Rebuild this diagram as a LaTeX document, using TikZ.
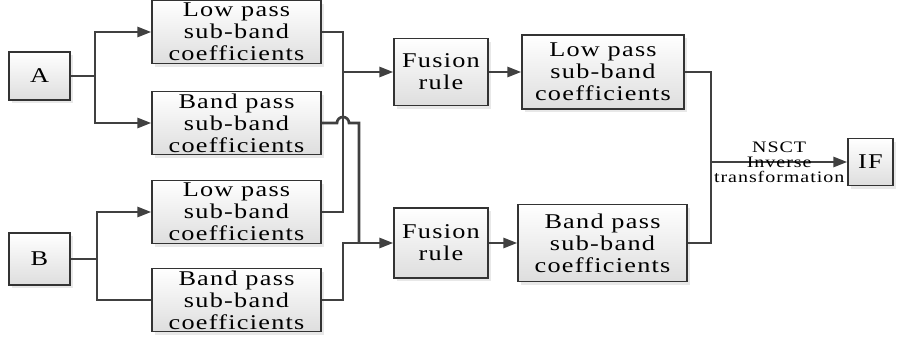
\documentclass[tikz,border=0pt]{standalone}
\usepackage{fontspec}
\setmainfont{Liberation Serif}[FakeStretch=1.25,LetterSpace=6]
\usetikzlibrary{arrows.meta,shadows}

\tikzset{
    blockbox/.style={draw=black!80, line width=1.3pt, top color=white, bottom color=black!13,
        drop shadow={shadow xshift=3pt, shadow yshift=-3pt, fill=black!18},
        inner sep=0pt, align=center, font=\fontsize{21}{22}\selectfont},
    wire/.style={draw=black!75, line width=2.7pt},
    flow/.style={wire, -{Triangle[length=14pt,width=10pt]}}
}

\begin{document}
\begin{tikzpicture}[x=1pt, y=-1pt]

        % Fix the page to the size of the reference
        \useasboundingbox (0,0) rectangle (900,340);

        % Input images
        \node[blockbox, minimum width=61pt, minimum height=48pt] (A) at (39.5,76) {A};
        \node[blockbox, minimum width=61pt, minimum height=52pt] (B) at (39.5,259) {B};

        % Loop to draw the four decomposition boxes
        \foreach \name/\y/\kind in {LowA/32/Low, BandA/123/Band, LowB/212/Low, BandB/300/Band} {
            \node[blockbox, minimum width=169pt, minimum height=63pt] (\name) at (236.5,\y)
                {\kind\ pass\\sub-band\\coefficients};
        }

        % Fusion rules and fused coefficients
        \node[blockbox, minimum width=94pt, minimum height=67pt] (Fus1) at (441,72) {Fusion\\rule};
        \node[blockbox, minimum width=94pt, minimum height=70pt] (Fus2) at (441,243) {Fusion\\rule};
        \node[blockbox, minimum width=162pt, minimum height=74pt] (LowOut) at (603,72) {Low pass\\sub-band\\coefficients};
        \node[blockbox, minimum width=169pt, minimum height=77pt] (BandOut) at (602.5,243) {Band pass\\sub-band\\coefficients};
        \node[blockbox, minimum width=45pt, minimum height=47pt] (IF) at (870.5,162) {IF};

        % Junction points of the wires
        \coordinate (sA) at (95,76);
        \coordinate (sB) at (97,259);
        \coordinate (jL) at (343,72);
        \coordinate (jB) at (359,243);
        \coordinate (jO) at (711,162);

        % Split each input into two bands
        \draw[wire] (A.east) -- (sA);
        \draw[flow] (sA) |- (LowA.west);
        \draw[flow] (sA) |- (BandA.west);
        \draw[wire] (B.east) -- (sB);
        \draw[flow] (sB) |- (LowB.west);
        \draw[wire] (sB) |- (BandB.west);

        % Gather the low pass bands
        \draw[wire] (LowA.east) -| (jL) -- (jL |- LowB.east) -- (LowB.east);
        \draw[flow] (jL) -- (Fus1.west);

        % Gather the band pass bands, hopping over the low pass wire
        \draw[wire] (BandA.east) -- ([xshift=-6pt]jL |- BandA.east)
            arc[start angle=180, end angle=360, radius=6] -- (jB |- BandA.east) -- (jB);
        \draw[wire] (BandB.east) -- (jL |- BandB.east) -- (jL |- jB) -- (jB);
        \draw[flow] (jB) -- (Fus2.west);

        % Fused coefficients
        \draw[flow] (Fus1.east) -- (LowOut.west);
        \draw[flow] (Fus2.east) -- (BandOut.west);

        % Inverse transform into the fused image
        \draw[wire] (LowOut.east) -| (jO) |- (BandOut.east);
        \draw[flow] (jO) -- (IF.west)
            node[midway, align=center, font=\fontsize{16}{15}\selectfont] {NSCT\\Inverse\\transformation};

\end{tikzpicture}
\end{document}
